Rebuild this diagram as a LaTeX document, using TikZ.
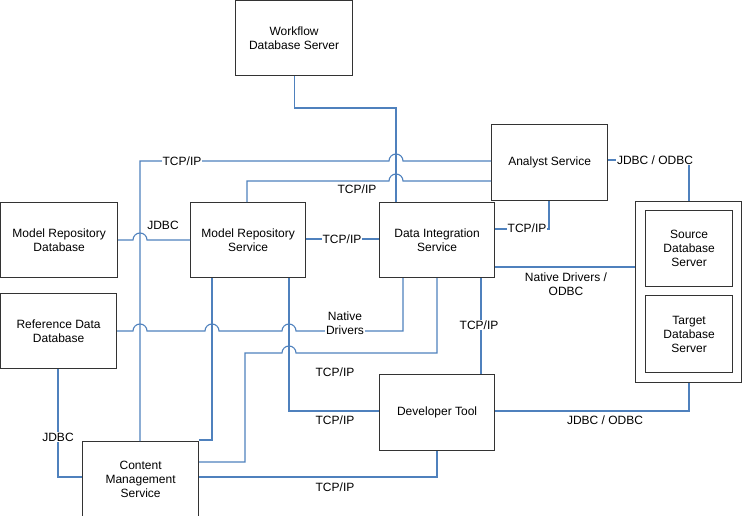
\documentclass[tikz,border=0pt]{standalone}
\usepackage{fontspec}
\setmainfont{Liberation Sans}
\definecolor{lnblue}{RGB}{79,129,189}
\begin{document}
\begin{tikzpicture}[x=1pt,y=-1pt,
 box/.style={draw=black!80,line width=1.2pt,fill=white,align=center,inner sep=0pt,anchor=north west},
 ln/.style={draw=lnblue,line width=1.1pt},
 lbl/.style={align=center,inner sep=1pt},
 lblw/.style={lbl,fill=white},
 every node/.append style={font=\fontsize{12}{14}\selectfont}]
\useasboundingbox (0,0) rectangle (742,516);
\def\hop{7pt}
% boxes
\node[box,minimum width=117pt,minimum height=75pt] (wf) at (235,0) {Workflow\\Database Server};
\node[box,minimum width=116pt,minimum height=76pt] (an) at (491,124) {Analyst Service};
\node[box,minimum width=117pt,minimum height=75pt] (mrdb) at (0,202) {Model Repository\\Database};
\node[box,minimum width=115pt,minimum height=75pt] (mrs) at (190,202) {Model Repository\\Service};
\node[box,minimum width=115pt,minimum height=75pt] (dis) at (379,202) {Data Integration\\Service};
\node[box,minimum width=116pt,minimum height=75pt] (rddb) at (0,293) {Reference Data\\Database};
\node[box,minimum width=106pt,minimum height=181pt] (db) at (635,201) {};
\node[box,minimum width=87pt,minimum height=76pt] (src) at (645,210) {Source\\Database\\Server};
\node[box,minimum width=87pt,minimum height=77pt] (tgt) at (645,295) {Target\\Database\\Server};
\node[box,minimum width=115pt,minimum height=76pt] (dev) at (379,374) {Developer Tool};
\node[box,minimum width=116pt,minimum height=75pt] (cms) at (82,441) {Content\\Management\\Service};
% connectors
\draw[ln] (wf.south) |- (396,108) -- (dis.north -| 396,0);
\draw[ln] (cms.north -| 140,0) -- (140,161) -- (389,161) arc[start angle=180,end angle=0,radius=\hop] -- (an.west |- 0,161);
\node[lblw] (l1) at (182,161) {TCP/IP};
\draw[ln] (mrs.north -| 247,0) -- (247,181) -- (389,181) arc[start angle=180,end angle=0,radius=\hop] -- (an.west |- 0,181);
\node[lbl] (l2) at (357,189) {TCP/IP};
\draw[ln] (mrdb.east |- 0,240) -- (133,240) arc[start angle=180,end angle=0,radius=\hop] -- (mrs.west |- 0,240);
\node[lbl] (l3) at (163,225) {JDBC};
\draw[ln] (mrs.east |- 0,239) -- (dis.west |- 0,239);
\node[lblw] (l4) at (342,239) {TCP/IP};
\draw[ln] (dis.east |- 0,229) -- (549,229) -- (an.south -| 549,0);
\node[lblw] (l5) at (527,228) {TCP/IP};
\draw[ln] (an.east |- 0,160) -- (689,160) -- (db.north -| 689,0);
\node[lblw] (l6) at (655,160) {JDBC / ODBC};
\draw[ln] (dis.east |- 0,267) -- (db.west |- 0,267);
\node[lbl] (l7) at (566,284) {Native Drivers /\\ODBC};
\draw[ln] (rddb.east |- 0,331) -- (133,331) arc[start angle=180,end angle=0,radius=\hop] -- (205,331) arc[start angle=180,end angle=0,radius=\hop] -- (282,331) arc[start angle=180,end angle=0,radius=\hop] -- (403,331) -- (dis.south -| 403,0);
\node[lblw] (l8) at (345,323) {Native\\Drivers};
\draw[ln] (dis.south -| 437,0) -- (437,353) -- (296,353) arc[start angle=0,end angle=180,radius=\hop] -- (245,353) -- (245,462) -- (cms.east |- 0,462);
\node[lbl] (l9) at (335,372) {TCP/IP};
\draw[ln] (mrs.south -| 212,0) -- (212,440) -- (cms.east |- 0,440);
\draw[ln] (mrs.south -| 289,0) -- (289,411) -- (dev.west |- 0,411);
\node[lbl] (l10) at (335,420) {TCP/IP};
\draw[ln] (dis.south -| 481,0) -- (dev.north -| 481,0);
\node[lblw] (l11) at (479,325) {TCP/IP};
\draw[ln] (dev.east |- 0,411) -- (689,411) -- (db.south -| 689,0);
\node[lbl] (l12) at (605,420) {JDBC / ODBC};
\draw[ln] (rddb.south -| 58,0) -- (58,477) -- (cms.west |- 0,477);
\node[lblw] (l13) at (58,437) {JDBC};
\draw[ln] (dev.south -| 437,0) -- (437,477) -- (cms.east |- 0,477);
\node[lbl] (l14) at (335,487) {TCP/IP};
\end{tikzpicture}
\end{document}
